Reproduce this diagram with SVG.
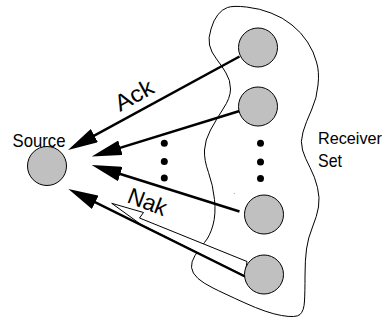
<svg xmlns="http://www.w3.org/2000/svg" width="386" height="322" viewBox="0 0 386 322">
<style>
.node{fill:#c0c0c0;stroke:#000;stroke-width:1}
.dot{fill:#000}
.thick{fill:none;stroke:#000;stroke-width:2.5;marker-end:url(#ah)}
.lbl{font-family:"Liberation Sans",Arial,sans-serif;font-size:19px;fill:#000}
.big{font-size:23px}
.rs{font-size:17px}
</style>
<defs>
<marker id="ah" viewBox="0 -7.5 30 15" refX="20" refY="0" markerWidth="30" markerHeight="15" markerUnits="userSpaceOnUse" orient="auto">
<path d="M0,-7.5 L30,0 L0,7.5 Z" fill="#000"/>
</marker>
</defs>
<rect width="386" height="322" fill="#fff"/>
<g id="receiver-set">
<path fill="none" stroke="#000" stroke-width="1" d="M 246.5,7 Q 260,8.5 271,13 Q 283,17.5 292,25 Q 301,32 307.5,42 Q 314,52 316.5,62 Q 319.5,72 318,85 Q 317,98 311.5,110 Q 306,122 303,132 Q 300,142 302.5,150 Q 305,158 310,167.5 Q 315,177 317.5,187.5 Q 320,198 318.5,207 Q 317,216 312.5,227 Q 308,238 306.5,249 Q 305,260 305,276 Q 305,292 304.5,301 Q 304,311 300,314.5 Q 296,318 281.5,315.5 Q 267,313 245,303 Q 223,293 213,288 Q 203,283 198,278.5 Q 192,273 191.5,267.5 Q 191,262 195,255.5 Q 199,249 204.5,242.5 Q 210,236 213,225 Q 216,214 214.5,199.5 Q 213,185 208.5,172.5 Q 204,160 204.5,150 Q 205,140 210.5,130 Q 216,120 223,109 Q 230.5,98 230.5,89 Q 230.5,80 226,73 Q 222,66 216.5,59 Q 211,52 209.5,45 Q 208,38 211,29 Q 213.5,20 218,14.5 Q 222,9.5 227.5,7.5 Q 233,5.5 246.5,7 Z"/>
<text class="lbl rs" x="318" y="143.5" textLength="64" lengthAdjust="spacingAndGlyphs">Receiver</text>
<text class="lbl" x="318" y="166.5" textLength="24" lengthAdjust="spacingAndGlyphs">Set</text>
</g>
<g id="connectors">
<polygon points="111.7,203.3 143.5,212.5 139.5,218 247,261.5 245,276 141,224.5" fill="#fff" stroke="#000" stroke-width="1" stroke-linejoin="miter"/>
<line class="thick" x1="239.5" y1="56.5" x2="76.8" y2="145.2"/>
<line class="thick" x1="239.5" y1="111" x2="101.3" y2="153.6"/>
<line class="thick" x1="239.5" y1="211.5" x2="101.2" y2="168"/>
<line class="thick" x1="245" y1="276.5" x2="77.3" y2="193.4"/>
<text class="lbl big" transform="translate(120,112) rotate(-29)" textLength="41" lengthAdjust="spacingAndGlyphs">Ack</text>
<text class="lbl big" transform="translate(126,202) rotate(21)" textLength="40" lengthAdjust="spacingAndGlyphs">Nak</text>
</g>
<g id="source">
<circle class="node" cx="47" cy="166" r="19.5"/>
<text class="lbl" x="12.5" y="146.5" textLength="53" lengthAdjust="spacingAndGlyphs">Source</text>
</g>
<g id="receiver1"><circle class="node" cx="258" cy="47.5" r="19.5"/></g>
<g id="receiver2"><circle class="node" cx="258" cy="106.5" r="19.5"/></g>
<g id="receiver3"><circle class="node" cx="264" cy="214.5" r="19.5"/></g>
<g id="receiver4"><circle class="node" cx="264" cy="274.5" r="19.5"/></g>
<g id="ellipsis-left">
<circle class="dot" cx="164.3" cy="143.3" r="3.5"/>
<circle class="dot" cx="164.3" cy="161.5" r="3.5"/>
<circle class="dot" cx="164.3" cy="178" r="3.5"/>
</g>
<g id="ellipsis-right">
<circle class="dot" cx="260.5" cy="143.3" r="3.5"/>
<circle class="dot" cx="260.5" cy="162" r="3.5"/>
<circle class="dot" cx="260.5" cy="178.5" r="3.5"/>
</g>
<circle cx="234.3" cy="193.5" r="0.6" fill="#999"/>
</svg>
